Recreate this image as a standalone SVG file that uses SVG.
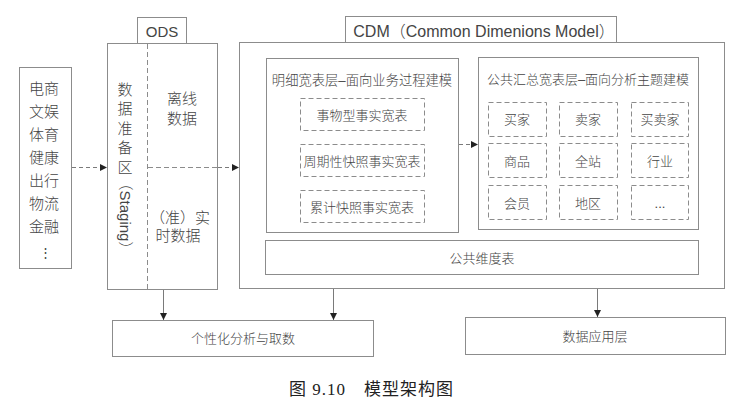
<svg xmlns="http://www.w3.org/2000/svg" width="739" height="402" viewBox="0 0 739 402">
<style>
  .box { fill: none; stroke: #8c8c8c; stroke-width: 1; }
  .dbox { fill: none; stroke: #8c8c8c; stroke-width: 1; stroke-dasharray: 5 3; }
  .div { fill: none; stroke: #8c8c8c; stroke-width: 1; stroke-dasharray: 5 3; }
  .t { font-family: "Liberation Sans", "Noto Sans CJK SC", sans-serif; font-weight: 300; fill: #444; text-anchor: middle; dominant-baseline: central; }
  .t15 { font-size: 15px; }
  .t14 { font-size: 13.3px; }
  .t13 { font-size: 13px; }
  .t16 { font-size: 16px; }
  .conn { fill: none; stroke: #7a7a7a; stroke-width: 1; }
  .dconn { fill: none; stroke: #7a7a7a; stroke-width: 1; stroke-dasharray: 4 3; }
  .cap { font-family: "Liberation Serif", "Noto Sans CJK SC", serif; font-size: 17px; fill: #222; dominant-baseline: central; letter-spacing: 1px; }
</style>
<defs>
  <marker id="arr" viewBox="0 0 10 10" refX="10" refY="5" markerWidth="7" markerHeight="7" markerUnits="userSpaceOnUse" orient="auto">
    <path d="M0,0 L10,5 L0,10 Z" fill="#222"/>
  </marker>
</defs>
<rect x="0" y="0" width="739" height="402" fill="#ffffff"/>

<g id="source">
  <rect class="box" x="19.5" y="67.5" width="52" height="201"/>
  <text class="t t15" x="44" y="88">电商</text>
  <text class="t t15" x="44" y="111">文娱</text>
  <text class="t t15" x="44" y="134">体育</text>
  <text class="t t15" x="44" y="157">健康</text>
  <text class="t t15" x="44" y="180">出行</text>
  <text class="t t15" x="44" y="203">物流</text>
  <text class="t t15" x="44" y="226">金融</text>
  <text class="t t13" x="45" y="252" style="font-family:'DejaVu Sans',sans-serif">⋮</text>
</g>

<g id="ods">
  <rect class="box" x="137.5" y="17.5" width="49" height="26"/>
  <text class="t t15" x="162" y="31">ODS</text>
  <rect class="box" x="107.5" y="43.5" width="110" height="246"/>
  <line class="div" x1="147.5" y1="44" x2="147.5" y2="289"/>
  <line class="div" x1="148" y1="167.5" x2="217" y2="167.5"/>
  <text class="t t15" x="125" y="89">数</text>
  <text class="t t15" x="125" y="108.5">据</text>
  <text class="t t15" x="125" y="128">准</text>
  <text class="t t15" x="125" y="147.5">备</text>
  <text class="t t15" x="125" y="167">区</text>
  <text class="t t15" transform="translate(125,216) rotate(90)" x="0" y="0">（Staging）</text>
  <text class="t t15" x="182" y="98">离线</text>
  <text class="t t15" x="182" y="118">数据</text>
  <text class="t t15" x="180" y="217">（准）实</text>
  <text class="t t15" x="178" y="235">时数据</text>
</g>

<g id="cdm">
  <rect class="box" x="345.5" y="16.5" width="271" height="26"/>
  <text class="t t16" x="484" y="31">CDM（Common Dimenions Model）</text>
  <rect class="box" x="239.5" y="42.5" width="485" height="246"/>
</g>

<g id="detail-layer">
  <rect class="box" x="266.5" y="58.5" width="192" height="174"/>
  <text class="t t14" x="362" y="80">明细宽表层–面向业务过程建模</text>
</g>
<g id="fact-transaction">
  <rect class="dbox" x="300.5" y="98.5" width="124" height="32"/>
  <text class="t t13" x="362" y="115">事物型事实宽表</text>
</g>
<g id="fact-periodic">
  <rect class="dbox" x="300.5" y="144.5" width="124" height="32"/>
  <text class="t t13" x="362" y="161">周期性快照事实宽表</text>
</g>
<g id="fact-accumulating">
  <rect class="dbox" x="300.5" y="190.5" width="124" height="32"/>
  <text class="t t13" x="362" y="207">累计快照事实宽表</text>
</g>

<g id="summary-layer">
  <rect class="box" x="478.5" y="57.5" width="220" height="172"/>
  <text class="t t13" x="588" y="79">公共汇总宽表层–面向分析主题建模</text>
</g>
<g id="cell-buyer"><rect class="dbox" x="488.5" y="102.5" width="58" height="34"/><text class="t t13" x="517" y="119">买家</text></g>
<g id="cell-seller"><rect class="dbox" x="559.5" y="102.5" width="58" height="34"/><text class="t t13" x="588" y="119">卖家</text></g>
<g id="cell-buyer-seller"><rect class="dbox" x="631.5" y="102.5" width="57" height="34"/><text class="t t13" x="660" y="119">买卖家</text></g>
<g id="cell-goods"><rect class="dbox" x="488.5" y="143.5" width="58" height="34"/><text class="t t13" x="517" y="161">商品</text></g>
<g id="cell-site"><rect class="dbox" x="559.5" y="143.5" width="58" height="34"/><text class="t t13" x="588" y="161">全站</text></g>
<g id="cell-industry"><rect class="dbox" x="631.5" y="143.5" width="57" height="34"/><text class="t t13" x="660" y="161">行业</text></g>
<g id="cell-member"><rect class="dbox" x="488.5" y="185.5" width="58" height="34"/><text class="t t13" x="517" y="203">会员</text></g>
<g id="cell-region"><rect class="dbox" x="559.5" y="185.5" width="58" height="34"/><text class="t t13" x="588" y="203">地区</text></g>
<g id="cell-more"><rect class="dbox" x="631.5" y="185.5" width="57" height="34"/><text class="t t13" x="660" y="203">...</text></g>

<g id="dimension">
  <rect class="box" x="265.5" y="240.5" width="433" height="34"/>
  <text class="t t13" x="482" y="258">公共维度表</text>
</g>

<g id="adhoc">
  <rect class="box" x="112.5" y="320.5" width="261" height="36"/>
  <text class="t t13" x="243" y="338">个性化分析与取数</text>
</g>

<g id="app">
  <rect class="box" x="465.5" y="317.5" width="260" height="37"/>
  <text class="t t13" x="595" y="336">数据应用层</text>
</g>

<g id="connectors">
  <line class="dconn" x1="72" y1="167.5" x2="107" y2="167.5" marker-end="url(#arr)"/>
  <line class="dconn" x1="218" y1="167.5" x2="239" y2="167.5" marker-end="url(#arr)"/>
  <line class="dconn" x1="459" y1="144.5" x2="478" y2="144.5" marker-end="url(#arr)"/>
  <line class="conn" x1="163.5" y1="290" x2="163.5" y2="320" marker-end="url(#arr)"/>
  <line class="conn" x1="333.5" y1="289" x2="333.5" y2="320" marker-end="url(#arr)"/>
  <line class="conn" x1="597.5" y1="289" x2="597.5" y2="317" marker-end="url(#arr)"/>
</g>

<text class="cap" x="289" y="389">图 9.10　模型架构图</text>
</svg>
